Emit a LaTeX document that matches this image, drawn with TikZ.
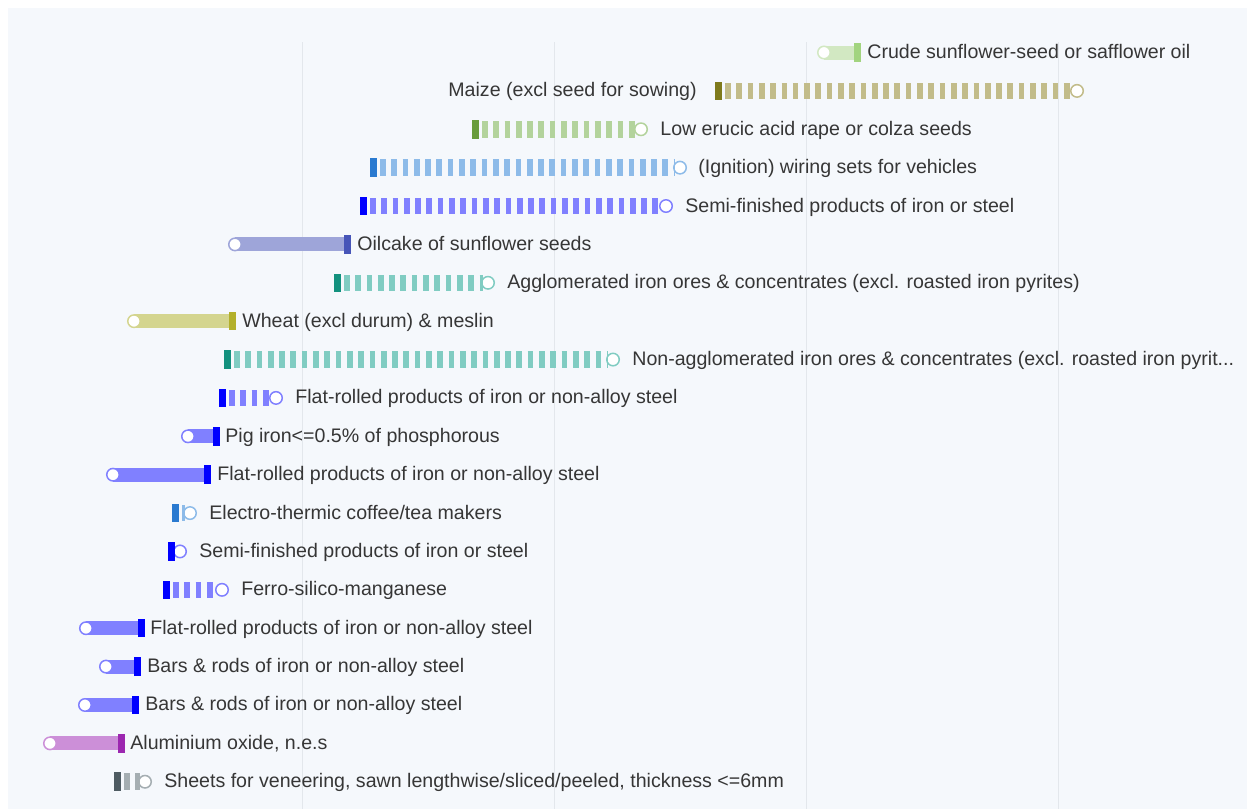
\documentclass[tikz,border=0pt]{standalone}
\usepackage{fontspec}
\setmainfont{Liberation Sans}
\usepackage{tikz, xcolor}

\definecolor{panel}{HTML}{F5F8FC}
\definecolor{gridgray}{HTML}{E3E7EC}
\definecolor{labgray}{HTML}{363636}
\definecolor{sunD}{HTML}{A2D47F}   \definecolor{sunL}{HTML}{D2E8C2}
\definecolor{maizeD}{HTML}{7E7A1C} \definecolor{maizeL}{HTML}{C2BC8A}
\definecolor{rapeD}{HTML}{689C3B}  \definecolor{rapeL}{HTML}{B3D39C}
\definecolor{wireD}{HTML}{2A7AD0}  \definecolor{wireL}{HTML}{8DBBE9}
\definecolor{steelD}{HTML}{0000FF} \definecolor{steelL}{HTML}{8080FF}
\definecolor{oilD}{HTML}{4755B8}   \definecolor{oilL}{HTML}{9EA5D9}
\definecolor{oreD}{HTML}{12917E}   \definecolor{oreL}{HTML}{80CCC2}
\definecolor{wheatD}{HTML}{B3B02B} \definecolor{wheatL}{HTML}{D4D58F}
\definecolor{aluD}{HTML}{9C27B0}   \definecolor{aluL}{HTML}{CC8FD8}
\definecolor{woodD}{HTML}{4E5B62}  \definecolor{woodL}{HTML}{A5AEB2}

\tikzset{
  lab/.style={inner sep=0pt, font=\fontsize{11.15}{13}\selectfont, text=labgray},
  curmark/.style={rectangle, fill=#1, inner sep=0pt, minimum width=0.14cm, minimum height=0.37cm},
  oldmark/.style={circle, fill=white, draw=#1, line width=0.03cm, inner sep=0pt, minimum size=0.25cm},
  solidbar/.style={draw=#1, line width=0.28cm},
  stripebar/.style={draw=#1, line width=0.33cm, dash pattern=on 0.114cm off 0.112cm, dash phase=0.086cm, shorten >=0.1cm},
}

% row: number, current x, previous x, colour, label anchor, label x, label
\newcommand\uprow[7]{%
  \coordinate (cur#1) at (#2,{52.5+38.38*(#1-1)});
  \coordinate (old#1) at (#3,{52.5+38.38*(#1-1)});
  \draw[solidbar=#4L] (cur#1) -- (old#1);
  \node[oldmark=#4L] (was#1) at (old#1) {};
  \node[curmark=#4D] (now#1) at (cur#1) {};
  \node[lab, anchor=base #5] (lab#1) at (#6,{58.5+38.38*(#1-1)}) {#7};
}
\newcommand\downrow[7]{%
  \coordinate (cur#1) at (#2,{52.5+38.38*(#1-1)});
  \coordinate (old#1) at (#3,{52.5+38.38*(#1-1)});
  \node[oldmark=#4L] (was#1) at (old#1) {};
  \draw[stripebar=#4L] (cur#1) -- (old#1);
  \node[curmark=#4D] (now#1) at (cur#1) {};
  \node[lab, anchor=base #5] (lab#1) at (#6,{58.5+38.38*(#1-1)}) {#7};
}

\begin{document}
\begin{tikzpicture}[x=0.02cm, y=-0.02cm]
    \fill[white] (0,0) rectangle (1253,809);
    \useasboundingbox (0,0) rectangle (1253,809);
    \fill[panel] (8,8) rectangle (1247,809);
    \foreach \gx in {302,554,806,1058}
        \draw[gridgray, line width=0.02cm] (\gx,42) -- (\gx,809);

    \uprow{1}{857}{824}{sun}{west}{867}{Crude sunflower-seed or safflower oil}
    \downrow{2}{718}{1077}{maize}{east}{697}{Maize (excl seed for sowing)}
    \downrow{3}{475}{641}{rape}{west}{660}{Low erucic acid rape or colza seeds}
    \downrow{4}{373}{680}{wire}{west}{698}{(Ignition) wiring sets for vehicles}
    \downrow{5}{363}{666}{steel}{west}{685}{Semi-finished products of iron or steel}
    \uprow{6}{347}{235}{oil}{west}{357}{Oilcake of sunflower seeds}
    \downrow{7}{337}{488}{ore}{west}{507}{Agglomerated iron ores \& concentrates (excl. roasted iron pyrites)}
    \uprow{8}{232}{134}{wheat}{west}{242}{Wheat (excl durum) \& meslin}
    \downrow{9}{227}{613}{ore}{west}{632}{Non-agglomerated iron ores \& concentrates (excl. roasted iron pyrit...}
    \downrow{10}{222}{276}{steel}{west}{295}{Flat-rolled products of iron or non-alloy steel}
    \uprow{11}{216}{188}{steel}{west}{225}{Pig iron<=0.5\% of phosphorous}
    \uprow{12}{207}{113}{steel}{west}{217}{Flat-rolled products of iron or non-alloy steel}
    \downrow{13}{175}{190}{wire}{west}{209}{Electro-thermic coffee/tea makers}
    \downrow{14}{171}{180}{steel}{west}{199}{Semi-finished products of iron or steel}
    \downrow{15}{166}{222}{steel}{west}{241}{Ferro-silico-manganese}
    \uprow{16}{141}{86}{steel}{west}{150}{Flat-rolled products of iron or non-alloy steel}
    \uprow{17}{137}{106}{steel}{west}{147}{Bars \& rods of iron or non-alloy steel}
    \uprow{18}{135}{85}{steel}{west}{145}{Bars \& rods of iron or non-alloy steel}
    \uprow{19}{121}{50}{alu}{west}{130}{Aluminium oxide, n.e.s}
    \downrow{20}{117}{145}{wood}{west}{164}{Sheets for veneering, sawn lengthwise/sliced/peeled, thickness <=6mm}
\end{tikzpicture}
\end{document}
